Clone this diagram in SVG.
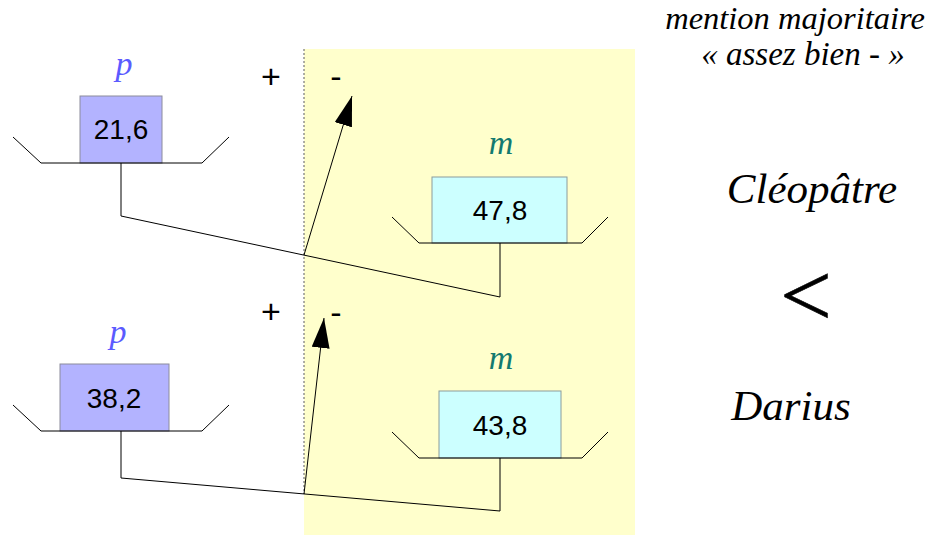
<svg xmlns="http://www.w3.org/2000/svg" width="937" height="535" viewBox="0 0 937 535">
<style>
.tray{fill:none;stroke:#000;stroke-width:1}
.pbox{fill:#b3b3ff;stroke:#8c8c9c;stroke-width:1}
.mbox{fill:#ccffff;stroke:#8c9c9c;stroke-width:1}
.num{font-family:"Liberation Sans",Arial,sans-serif;font-size:28px;fill:#000;text-anchor:middle}
.plab{font-family:"Liberation Serif","Times New Roman",serif;font-style:italic;font-size:34px;fill:#5b5bff;text-anchor:middle}
.mlab{font-family:"Liberation Serif","Times New Roman",serif;font-style:italic;font-size:34px;fill:#137a70;text-anchor:middle}
.sign{font-family:"Liberation Sans",Arial,sans-serif;font-size:34px;fill:#000;text-anchor:middle}
.ital{font-family:"Liberation Serif","Times New Roman",serif;font-style:italic;fill:#000;text-anchor:middle}
.lt{font-family:"Liberation Serif","Times New Roman",serif;fill:#000;text-anchor:middle}
.conn{fill:none;stroke:#000;stroke-width:1}
</style>
<defs>
<marker id="ah" markerUnits="userSpaceOnUse" markerWidth="30" markerHeight="18" refX="30" refY="9" orient="auto" viewBox="0 0 30 18">
<path d="M0,0 L30,9 L0,18 z" fill="#000"/>
</marker>
</defs>
<rect x="304" y="49" width="331" height="486" fill="#ffffcc"/>
<line x1="304" y1="49" x2="304" y2="494" stroke="#777" stroke-width="1.2" stroke-dasharray="2,2"/>

<g id="signs">
<text class="sign" x="271" y="88">+</text>
<text class="sign" x="336" y="88">-</text>
<text class="sign" x="271" y="323">+</text>
<text class="sign" x="336" y="324">-</text>
</g>

<g id="p-cleopatre">
<text class="plab" x="124" y="75">p</text>
<rect class="pbox" x="80" y="96" width="82" height="67"/>
<text class="num" x="121" y="139">21,6</text>
<polyline class="tray" points="13,137 41,163 202,163 229,137"/>
</g>

<g id="m-cleopatre">
<text class="mlab" x="501" y="154">m</text>
<rect class="mbox" x="432" y="177" width="135" height="66"/>
<text class="num" x="500" y="220">47,8</text>
<polyline class="tray" points="392,217 419,243 582,243 608,217"/>
</g>

<g id="p-darius">
<text class="plab" x="118" y="343">p</text>
<rect class="pbox" x="60" y="364" width="109" height="67"/>
<text class="num" x="114" y="408">38,2</text>
<polyline class="tray" points="13,405 41,431 202,431 229,405"/>
</g>

<g id="m-darius">
<text class="mlab" x="501" y="369">m</text>
<rect class="mbox" x="439" y="391" width="122" height="67"/>
<text class="num" x="500" y="435">43,8</text>
<polyline class="tray" points="392,432 419,458 582,458 608,432"/>
</g>

<g id="connectors">
<polyline class="conn" points="121,163 121,216 500,297 500,243"/>
<polyline class="conn" points="121,431 121,478 500,511 500,458"/>
<line class="conn" x1="304" y1="255" x2="352" y2="96" marker-end="url(#ah)"/>
<line class="conn" x1="304" y1="494" x2="324" y2="318" marker-end="url(#ah)"/>
</g>

<g id="legend">
<text class="ital" x="795" y="29" font-size="32.5">mention majoritaire</text>
<text class="ital" x="803" y="65" font-size="33">« assez bien - »</text>
<text class="ital" x="812" y="203" font-size="43">Cléopâtre</text>
<text class="lt" x="806" y="326" font-size="92" stroke="#000" stroke-width="0.6">&lt;</text>
<text class="ital" x="791" y="420" font-size="43">Darius</text>
</g>
</svg>
